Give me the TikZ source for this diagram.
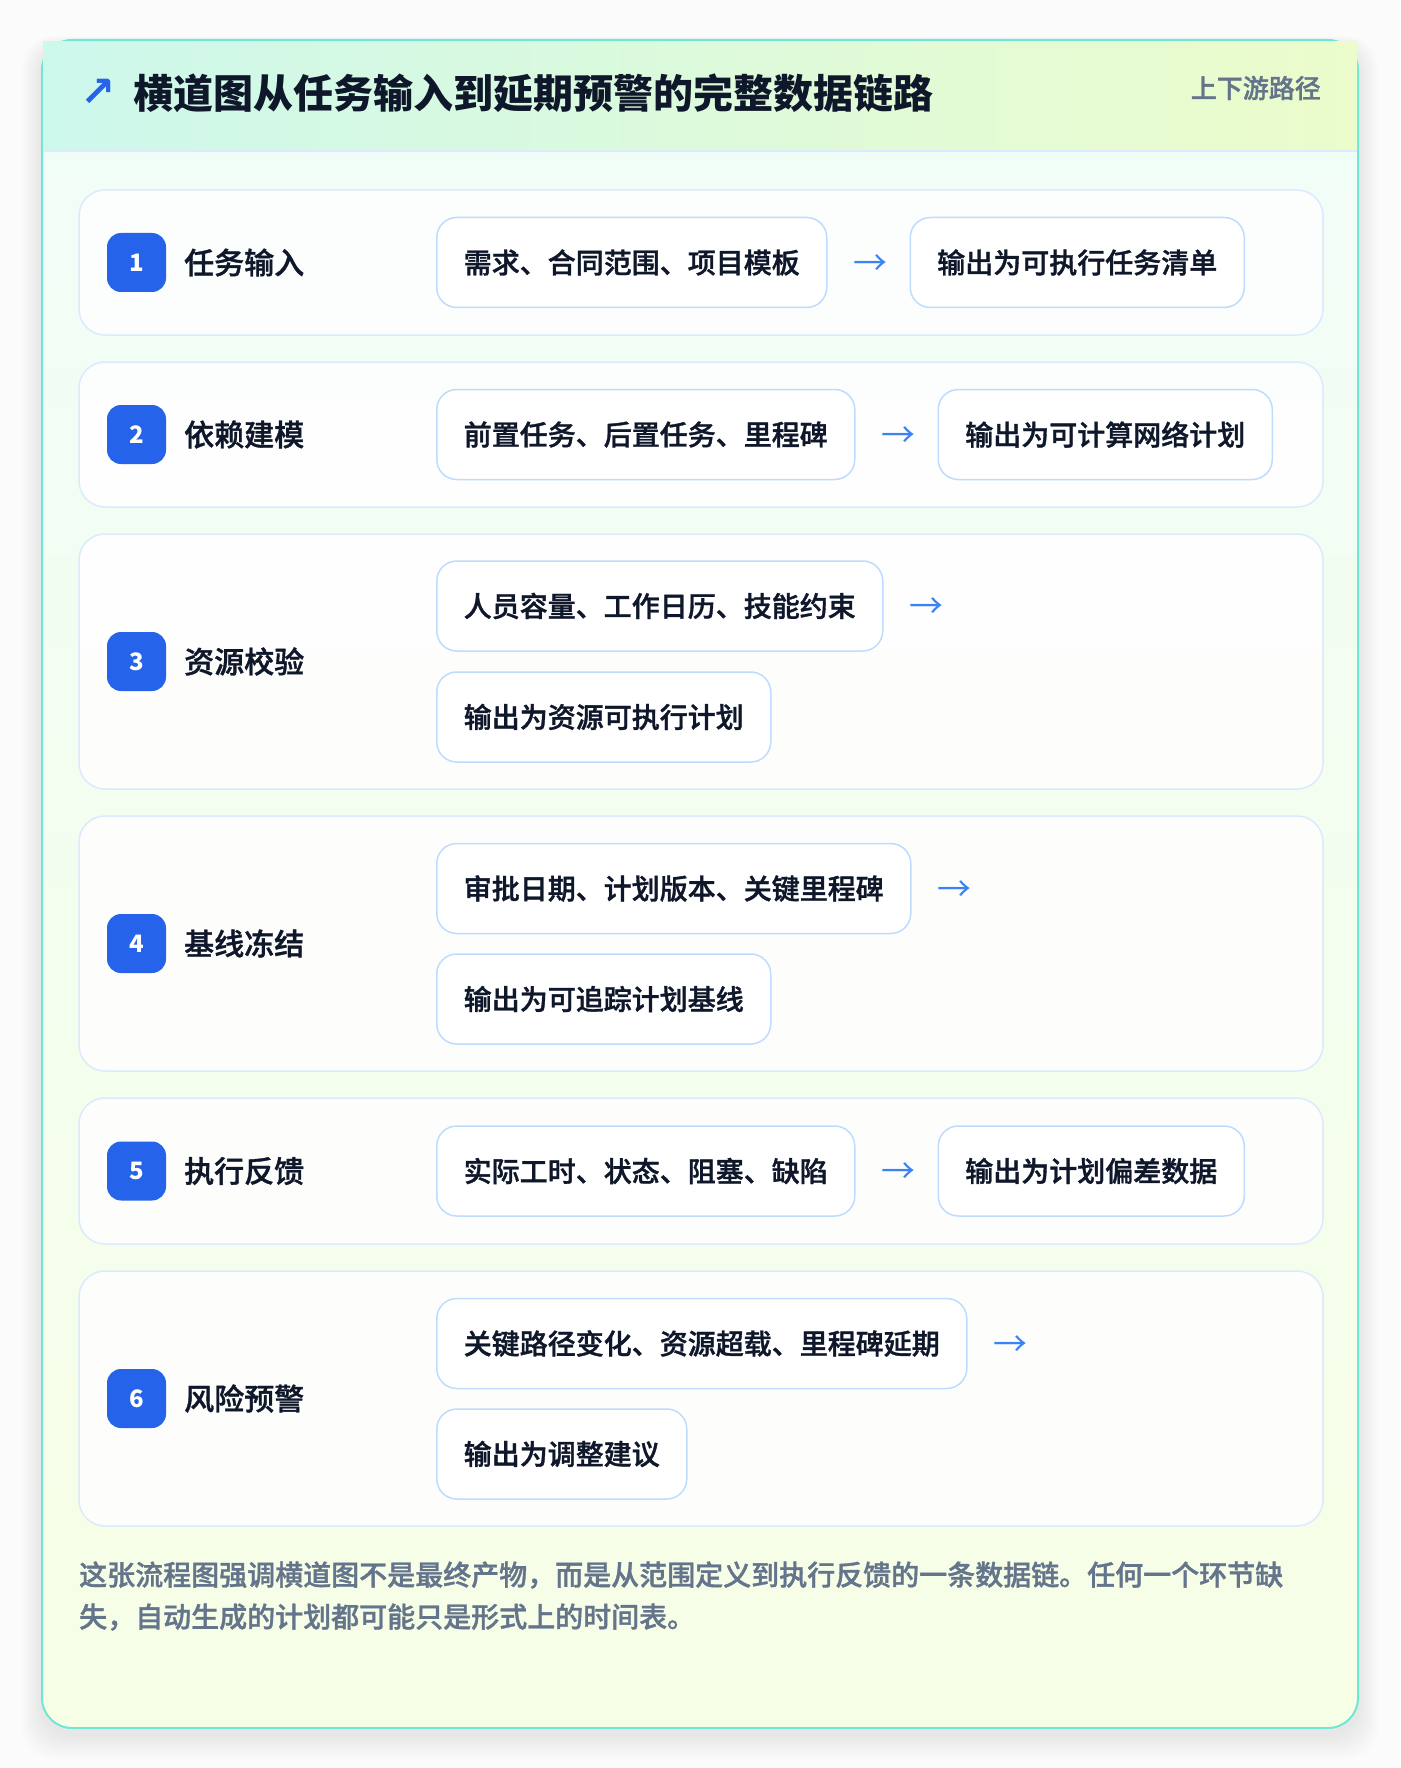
\documentclass[tikz,border=0pt]{standalone}
\usepackage{fontspec}
\setmainfont{Noto Sans CJK SC}
\newfontfamily\cjksemi{Noto Sans CJK SC Medium}[FakeBold=1.2]
\newfontfamily\symf{DejaVu Sans}
\usetikzlibrary{positioning}
\definecolor{pagebg}{HTML}{FBFBFB}
\definecolor{cardborder}{HTML}{6EE7D4}
\definecolor{headL}{HTML}{CDF8EC}
\definecolor{headR}{HTML}{ECFCCB}
\definecolor{bodyTop}{HTML}{F0FDF8}
\definecolor{bodyBot}{HTML}{F7FEE6}
\definecolor{panelborder}{HTML}{DBEAFE}
\definecolor{boxborder}{HTML}{BFDBFE}
\definecolor{badgeblue}{HTML}{2563EB}
\definecolor{arrblue}{HTML}{3B82F6}
\definecolor{ink}{HTML}{0F172A}
\definecolor{slate}{HTML}{64748B}
\begin{document}
\begin{tikzpicture}[x=1pt,y=-1pt,
  panel/.style={draw=panelborder, line width=1.5pt, fill=white, fill opacity=0.85, draw opacity=1,
    rounded corners=26pt, minimum width=1244pt, inner sep=0pt},
  badge/.style={fill=badgeblue, rounded corners=14pt, minimum size=59pt, inner sep=0pt,
    text=white, font=\bfseries\fontsize{24pt}{28pt}\selectfont},
  lbl/.style={anchor=west, inner sep=0pt, text=ink, font=\cjksemi\fontsize{30pt}{36pt}\selectfont},
  box/.style={anchor=west, draw=boxborder, line width=1.5pt, fill=white, rounded corners=20pt,
    minimum height=90pt, inner xsep=27pt, inner ysep=0pt, text=ink,
    font=\cjksemi\fontsize{28pt}{34pt}\selectfont},
  arr/.style={inner sep=0pt, minimum width=30pt, yshift=-2.5pt, text=arrblue, font=\fontsize{34pt}{36pt}\selectfont},
]
\useasboundingbox (0,0) rectangle (1400,1768);
\fill[pagebg] (0,0) rectangle (1400,1768);
% card shadow
\foreach \i in {1,...,10}{
  \fill[black, opacity=0.007, rounded corners=32pt] (42-2*\i,40-\i+6) rectangle (1358+2*\i,1728+2.5*\i+6);
}
% card
\path[rounded corners=30pt, top color=bodyTop, bottom color=bodyBot] (42,40) rectangle (1358,1728);
\draw[cardborder, line width=2pt, rounded corners=30pt] (42,40) rectangle (1358,1728);
\fill[left color=headL, right color=headR] (43,42) rectangle (1357,151);
\draw[panelborder, line width=2pt] (43,151) -- (1357,151);
\node[text=badgeblue, inner sep=0pt, font=\symf\bfseries\fontsize{42pt}{44pt}\selectfont] (ic) at (98.5,93) {↗};
\node[anchor=west, inner sep=0pt, text=ink, font=\bfseries\fontsize{40pt}{48pt}\selectfont] (title) at (133,93) {横道图从任务输入到延期预警的完整数据链路};
\node[anchor=east, inner sep=0pt, text=slate, font=\cjksemi\fontsize{26pt}{30pt}\selectfont] (tag) at (1321,88) {上下游路径};

% row 1
\node[panel, minimum height=145pt] (p1) at (701,262.5) {};
\node[badge] (n1) at (136.5,262.5) {1};
\node[lbl] (l1) at (184,262.5) {任务输入};
\node[box] (a1) at (436,262.5) {需求、合同范围、项目模板};
\node[arr, right=26pt of a1] (r1) {→};
\node[box, right=82pt of a1] (b1) {输出为可执行任务清单};

% row 2
\node[panel, minimum height=145pt] (p2) at (701,434.5) {};
\node[badge] (n2) at (136.5,434.5) {2};
\node[lbl] (l2) at (184,434.5) {依赖建模};
\node[box] (a2) at (436,434.5) {前置任务、后置任务、里程碑};
\node[arr, right=26pt of a2] (r2) {→};
\node[box, right=82pt of a2] (b2) {输出为可计算网络计划};

% row 3
\node[panel, minimum height=255pt] (p3) at (701,661.5) {};
\node[badge] (n3) at (136.5,661.5) {3};
\node[lbl] (l3) at (184,661.5) {资源校验};
\node[box] (a3) at (436,606) {人员容量、工作日历、技能约束};
\node[arr, right=26pt of a3] (r3) {→};
\node[box] (b3) at (436,717) {输出为资源可执行计划};

% row 4
\node[panel, minimum height=255pt] (p4) at (701,943.5) {};
\node[badge] (n4) at (136.5,943.5) {4};
\node[lbl] (l4) at (184,943.5) {基线冻结};
\node[box] (a4) at (436,888.5) {审批日期、计划版本、关键里程碑};
\node[arr, right=26pt of a4] (r4) {→};
\node[box] (b4) at (436,999) {输出为可追踪计划基线};

% row 5
\node[panel, minimum height=146pt] (p5) at (701,1171) {};
\node[badge] (n5) at (136.5,1171) {5};
\node[lbl] (l5) at (184,1171) {执行反馈};
\node[box] (a5) at (436,1171) {实际工时、状态、阻塞、缺陷};
\node[arr, right=26pt of a5] (r5) {→};
\node[box, right=82pt of a5] (b5) {输出为计划偏差数据};

% row 6
\node[panel, minimum height=255pt] (p6) at (701,1398.5) {};
\node[badge] (n6) at (136.5,1398.5) {6};
\node[lbl] (l6) at (184,1398.5) {风险预警};
\node[box] (a6) at (436,1343.5) {关键路径变化、资源超载、里程碑延期};
\node[arr, right=26pt of a6] (r6) {→};
\node[box] (b6) at (436,1454) {输出为调整建议};

% footer
\node[anchor=west, inner sep=0pt, align=left, text=slate, font=\cjksemi\fontsize{28pt}{42pt}\selectfont] (ft) at (79,1596)
  {这张流程图强调横道图不是最终产物，而是从范围定义到执行反馈的一条数据链。任何一个环节缺\\失，自动生成的计划都可能只是形式上的时间表。};
\end{tikzpicture}
\end{document}
